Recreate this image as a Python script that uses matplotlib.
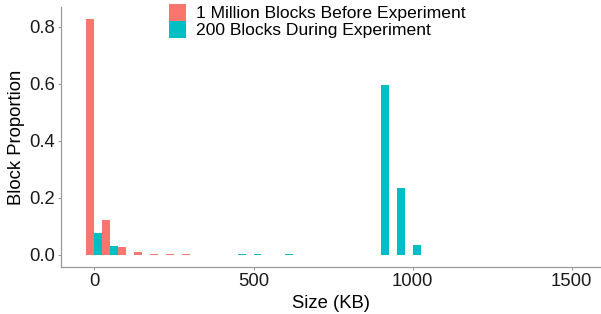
import matplotlib
matplotlib.use("Agg")
import matplotlib.pyplot as plt
from matplotlib.patches import Rectangle
import numpy as np

plt.rcParams['font.family'] = ['Liberation Sans', 'DejaVu Sans']

bin_width = 50
before_bins = [0, 50, 100, 150, 200, 250, 300]
before_vals = [0.826, 0.123, 0.027, 0.0095, 0.003, 0.002, 0.002]
during_bins = [0, 50, 450, 500, 600, 900, 950, 1000]
during_vals = [0.078, 0.033, 0.005, 0.005, 0.005, 0.596, 0.234, 0.035]

labels = ["1 Million Blocks Before Experiment", "200 Blocks During Experiment"]
colors = ["#F8766D", "#00BFC4"]

W, H = 601, 314
fig = plt.figure(figsize=(W/100, H/100), dpi=100)
ax_l, ax_r, ax_t, ax_b = 61, 601, 7, 266.7
ax = fig.add_axes([ax_l/W, (H-ax_b)/H, (ax_r-ax_l)/W, (ax_b-ax_t)/H])

half = bin_width / 2
ax.bar(np.array(before_bins) - half/2, before_vals, width=half, color=colors[0], linewidth=0)
ax.bar(np.array(during_bins) + half/2, during_vals, width=half, color=colors[1], linewidth=0)

ax.set_xlim(-105, 1592)
ax.set_ylim(-0.041, 0.869)
ax.set_xticks([0, 500, 1000, 1500])
ax.set_yticks([0.0, 0.2, 0.4, 0.6, 0.8])
ax.set_yticklabels(["0.0", "0.2", "0.4", "0.6", "0.8"])
for s in ["top", "right"]:
    ax.spines[s].set_visible(False)
for s in ["left", "bottom"]:
    ax.spines[s].set_color("#9a9a9a")
    ax.spines[s].set_linewidth(0.9)
ax.tick_params(axis="both", colors="#9a9a9a", length=2, width=0.8,
               labelsize=13.3, labelcolor="#1a1a1a")
ax.tick_params(axis="x", pad=2.6)
ax.tick_params(axis="y", pad=2.3)

fig.text(331/W, 1 - 307.5/H, "Size (KB)", ha="center", va="baseline", fontsize=13.3, color="black")
fig.text(17/W, 1 - 137/H, "Block Proportion", ha="center", va="center", rotation=90,
         fontsize=13.3, color="black")

# legend (drawn manually to match key tiling)
key_x, key_w = 169.3, 16.7
row_tops = [4.0, 20.7]
row_h = 17.0
for lab, c, top in zip(labels, colors, row_tops):
    fig.add_artist(Rectangle((key_x/W, 1 - (top + row_h)/H), key_w/W, row_h/H,
                             transform=fig.transFigure, facecolor=c, edgecolor="none"))
    fig.text(196/W, 1 - (top + row_h/2 + 0.8)/H, lab, ha="left", va="center",
             fontsize=12.6, color="black")

fig.savefig("out.png", dpi=100)
